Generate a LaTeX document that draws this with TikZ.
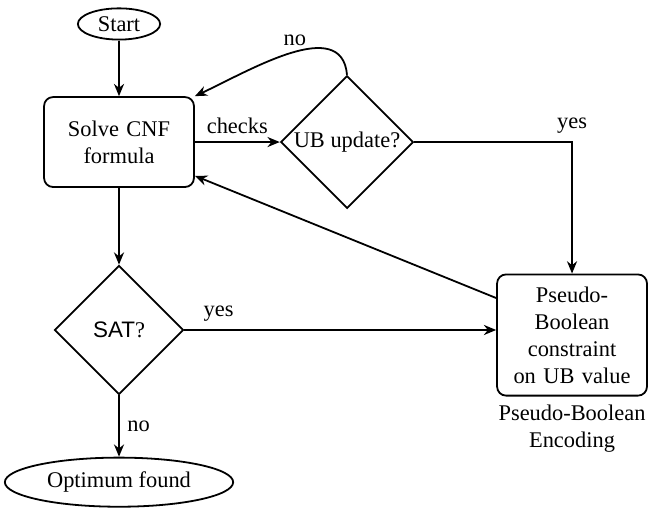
\documentclass[tikz,border=0pt]{standalone}
\usepackage{fontspec}
\setmainfont{Liberation Serif}
\newfontfamily\satfont{Liberation Sans}
\usetikzlibrary{positioning,shapes.geometric,arrows.meta}

\begin{document}
\begin{tikzpicture}[
>={Stealth[length=5.5pt,width=4.5pt]}, thick,
term/.style={draw,ellipse,inner sep=0pt},
proc/.style={draw,rectangle,rounded corners=4pt,text width=2cm,align=center,minimum width=2.35cm},
test/.style={draw,diamond,aspect=1,inner sep=0pt,minimum size=2.08cm}]
\useasboundingbox (0,0) rectangle (10.176,-7.965);
\node (start) [term,minimum width=1.29cm,minimum height=0.49cm] at (1.866,-0.376) {Start};
\node (solve) [proc,minimum height=1.41cm] at (1.866,-2.227) {Solve CNF formula};
\node (ub) [test] at (5.441,-2.227) {UB update?};
\node (sat) [test,minimum size=2.02cm] at (1.866,-5.174) {{\satfont SAT}?};
\node (opt) [term,minimum width=3.58cm,minimum height=0.77cm] at (1.866,-7.56) {Optimum found};
\node (pb) [proc,minimum height=1.9cm] at (8.969,-5.253) {Pseudo-\\Boolean constraint on UB value};
\node (pbenc) [below=0pt of pb,align=center] {Pseudo-Boolean\\Encoding};

\draw [->] (start) -- (solve);
\draw [->] (solve) -- node[above] {checks} (ub);
\draw [->] (ub.north) to[out=95,in=25] node[above=-1pt,pos=.47] {no} (solve.north east);
\draw [->] (ub.east) -| node[above,pos=.5] {yes} (pb.north);
\draw [->] (pb.154) -- (solve.-24);
\draw [->] (sat.east) -- node[above,pos=.11] {yes} (sat.east -| pb.west);
\draw [->] (solve) -- (sat);
\draw [->] (sat) -- node[right] {no} (opt);
\end{tikzpicture}
\end{document}
